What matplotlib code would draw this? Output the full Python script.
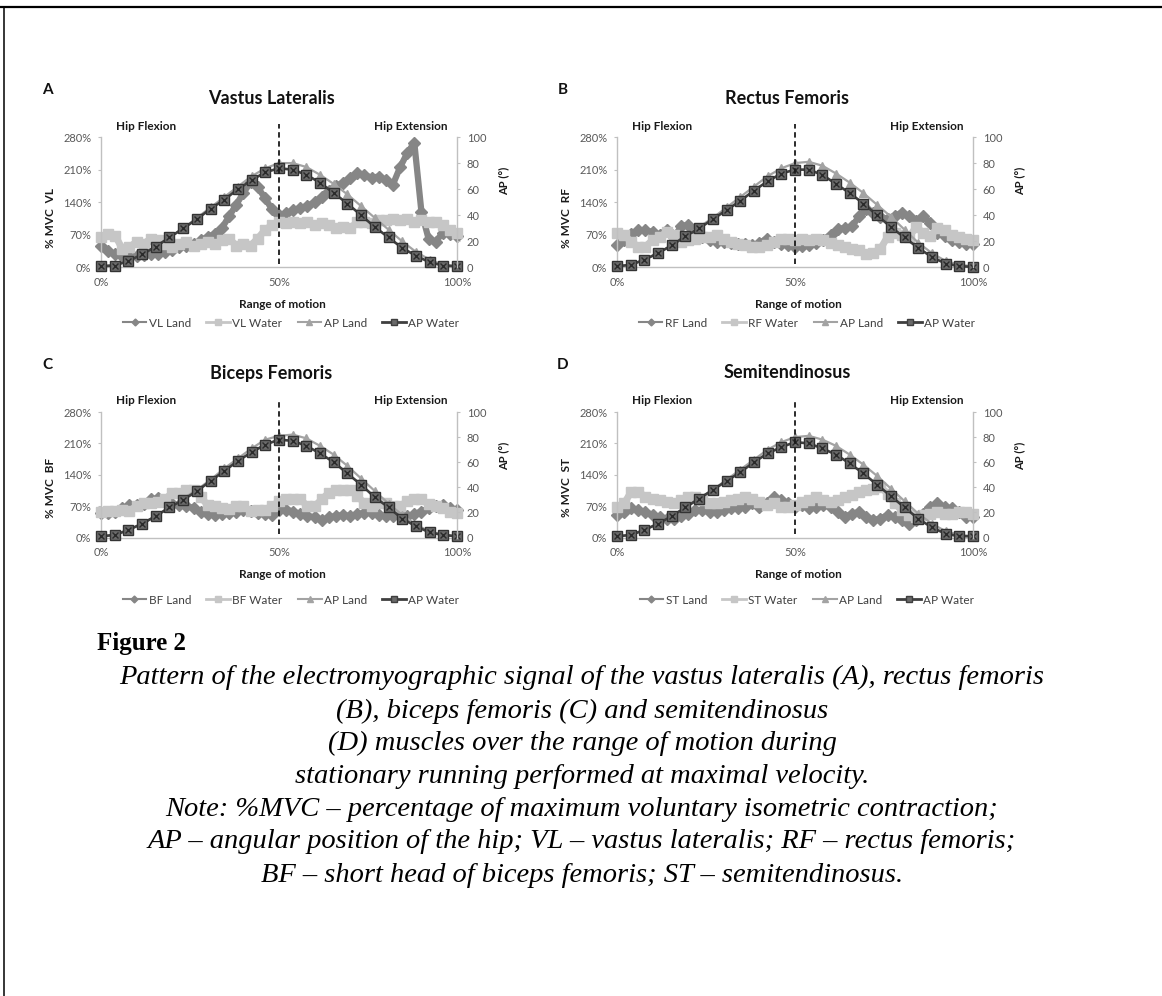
import numpy as np
import matplotlib
matplotlib.use("Agg")
import matplotlib.pyplot as plt
from matplotlib.lines import Line2D

plt.rcParams['font.family'] = ['Lato', 'DejaVu Sans']

W, H = 1162, 996

# x positions, % of the range of motion
EMG_X = list(range(0, 101, 2))
AP_X = list(np.linspace(0, 100, 27))

LETTERS = ['A', 'B', 'C', 'D']
TITLES = ['Vastus Lateralis', 'Rectus Femoris', 'Biceps Femoris', 'Semitendinosus']
MUSCLES = ['VL', 'RF', 'BF', 'ST']

# EMG, % MVC (every 2 % of the range of motion)
VL_LAND = [47, 35, 28, 24, 22, 25, 27, 28, 30, 34, 38, 43, 46, 50, 58, 66, 72,
           85, 110, 135, 160, 183, 172, 150, 125, 112, 116, 123, 128, 132, 140,
           152, 165, 175, 182, 192, 203, 198, 193, 195, 188, 178, 215, 245, 268,
           120, 62, 55, 75, 72, 68]
VL_WATER = [65, 72, 68, 40, 44, 55, 51, 62, 58, 51, 44, 51, 55, 47, 51, 55, 51,
            58, 62, 47, 51, 47, 62, 80, 91, 98, 95, 98, 95, 98, 91, 95, 91, 84,
            87, 84, 98, 98, 95, 102, 102, 105, 102, 105, 98, 102, 98, 98, 91,
            80, 73]
RF_LAND = [48, 59, 72, 80, 80, 76, 70, 80, 65, 88, 92, 78, 65, 60, 55, 55, 53,
           50, 50, 48, 52, 62, 55, 50, 48, 45, 46, 48, 52, 60, 70, 82, 85, 88,
           110, 125, 118, 108, 105, 110, 118, 110, 100, 110, 95, 75, 68, 60, 55,
           50, 50]
RF_WATER = [73, 70, 55, 45, 45, 59, 65, 77, 70, 55, 58, 62, 65, 66, 70, 62, 55,
            50, 48, 45, 45, 48, 55, 62, 62, 60, 62, 60, 62, 60, 52, 48, 45, 40,
            38, 30, 32, 40, 66, 75, 70, 65, 87, 75, 68, 84, 80, 70, 65, 62, 60]
BF_LAND = [55, 55, 58, 65, 72, 72, 75, 85, 88, 80, 75, 72, 70, 66, 58, 52, 50,
           52, 55, 58, 62, 60, 55, 52, 50, 62, 62, 58, 52, 48, 45, 38, 45, 48,
           50, 48, 52, 55, 55, 50, 48, 48, 50, 48, 52, 58, 65, 70, 72, 65, 62]
BF_WATER = [58, 60, 60, 62, 60, 70, 77, 77, 80, 85, 100, 100, 105, 107, 90, 72,
            70, 66, 63, 70, 70, 59, 62, 62, 70, 81, 85, 85, 85, 70, 70, 85, 100,
            107, 107, 107, 92, 77, 70, 77, 77, 70, 70, 81, 85, 85, 74, 70, 65,
            58, 55]
ST_LAND = [50, 57, 65, 61, 57, 50, 46, 42, 42, 48, 53, 61, 61, 57, 57, 61, 65,
           65, 68, 76, 68, 76, 91, 83, 76, 68, 72, 65, 68, 72, 68, 57, 46, 53,
           57, 46, 39, 42, 50, 46, 39, 31, 39, 53, 68, 76, 68, 65, 57, 46, 46]
ST_WATER = [68, 76, 102, 102, 91, 87, 83, 80, 76, 83, 91, 91, 83, 76, 76, 80,
            83, 87, 91, 87, 80, 72, 76, 68, 68, 72, 80, 83, 91, 83, 80, 83, 91,
            94, 102, 105, 109, 113, 98, 76, 61, 50, 46, 50, 53, 57, 53, 53, 57,
            57, 53]

# hip angular position, degrees
AP_LAND_A = [1, 2, 5, 10, 16, 23, 30, 38, 46, 54, 62, 70, 76, 80, 80, 77, 71,
             64, 56, 47, 38, 29, 20, 12, 6, 2, 1]
AP_WATER_A = [1, 1.5, 5, 10, 16, 23, 30, 37, 45, 52, 60, 67, 73, 76, 75, 71, 65,
              57, 49, 40, 31, 23, 15, 9, 4, 1.5, 1]
AP_LAND_B = [1, 2, 6, 11, 17, 24, 31, 38, 46, 54, 62, 70, 76, 80, 81, 78, 72,
             65, 57, 48, 39, 29, 19, 11, 5, 2, 1]
AP_WATER_B = [1, 2, 6, 11, 17, 24, 30, 37, 44, 51, 59, 66, 72, 75, 75, 71, 64,
              57, 49, 40, 31, 23, 15, 8, 3, 1, 0.5]
AP_LAND_C = [1, 2, 6, 11, 17, 24, 31, 38, 46, 55, 63, 71, 78, 81, 82, 79, 73,
             66, 57, 47, 37, 27, 18, 10, 5, 2, 1]
AP_WATER_C = [1, 2, 6, 11, 17, 24, 30, 37, 45, 53, 61, 68, 74, 78, 77, 73, 67,
              60, 51, 42, 32, 24, 15, 9, 4, 2, 1]
AP_LAND_D = [1, 2, 6, 11, 17, 24, 31, 38, 46, 54, 62, 70, 76, 80, 81, 78, 73,
             66, 58, 49, 39, 29, 19, 11, 5, 2, 1]
AP_WATER_D = [1, 2, 6, 11, 17, 24, 31, 38, 45, 52, 60, 67, 72, 76, 75, 71, 66,
              59, 51, 42, 33, 24, 15, 8, 3, 1, 1]

Y_TICKS = [0, 70, 140, 210, 280]
Y_TICK_LABELS = ['0%', '70%', '140%', '210%', '280%']
AP_TICKS = [0, 20, 40, 60, 80, 100]
X_TICKS = [0, 50, 100]
X_TICK_LABELS = ['0%', '50%', '100%']

CAPTION = [
    'Pattern of the electromyographic signal of the vastus lateralis (A), rectus femoris',
    '(B), biceps femoris (C) and semitendinosus',
    '(D) muscles over the range of motion during',
    'stationary running performed at maximal velocity.',
    'Note: %MVC \u2013 percentage of maximum voluntary isometric contraction;',
    'AP \u2013 angular position of the hip; VL \u2013 vastus lateralis; RF \u2013 rectus femoris;',
    'BF \u2013 short head of biceps femoris; ST \u2013 semitendinosus.',
]

COL_LAND = '#868686'
COL_WATER = '#c6c6c6'
COL_AP_LAND = '#a3a3a3'
COL_AP_WATER = '#3f3f3f'
COL_AXIS = '#c0c0c0'
COL_TICK_TXT = '#595959'

# panel boxes in pixels: left, top, right, bottom
BOXES = [(101, 137, 457, 267.5), (617, 137, 973, 267.5),
         (101, 412, 457, 537.5), (617, 412, 973, 537.5)]
LEGEND_Y = [323, 323, 600, 600]


def fx(x):
    return x / W


def fy(y):
    return 1 - y / H


fig = plt.figure(figsize=(W / 100, H / 100), dpi=100)


def draw_panel(box, letter, title, muscle, land, water, ap_land, ap_water, legend_y):
    left, top, right, bottom = box
    ax = fig.add_axes([fx(left), fy(bottom), (right - left) / W, (bottom - top) / H])
    ax2 = ax.twinx()

    ax.plot(EMG_X, land, color=COL_LAND, lw=4.5, marker='D', ms=6, mec=COL_LAND,
            clip_on=False, solid_joinstyle='round')
    ax.plot(EMG_X, water, color=COL_WATER, lw=5, marker='s', ms=7, mec=COL_WATER,
            clip_on=False, solid_joinstyle='round')
    ax2.plot(AP_X, ap_land, color=COL_AP_LAND, lw=1.6, marker='^', ms=6, clip_on=False)
    ax2.plot(AP_X, ap_water, color=COL_AP_WATER, lw=1.9, marker='s', ms=6.5,
             mfc='#6a6a6a', mec='#333333', clip_on=False)
    ax2.plot(AP_X, ap_water, ls='none', marker='x', ms=5, mew=1,
             color='#2a2a2a', clip_on=False)
    ax2.axvline(50, ymin=0.03, ymax=1.1, color='#1a1a1a', lw=1.3,
                ls=(0, (3, 2)), clip_on=False, zorder=5)

    ax.set_xlim(0, 100)
    ax.set_ylim(0, 280)
    ax2.set_ylim(0, 100)
    ax.set_xticks(X_TICKS, X_TICK_LABELS)
    ax.set_yticks(Y_TICKS, Y_TICK_LABELS)
    ax2.set_yticks(AP_TICKS, [str(t) for t in AP_TICKS])

    ax.tick_params(axis='x', length=0, pad=6.5, labelsize=8, labelcolor=COL_TICK_TXT)
    ax.tick_params(axis='y', length=2.5, width=0.8, color=COL_AXIS, pad=4.5,
                   labelsize=8, labelcolor=COL_TICK_TXT)
    ax2.tick_params(axis='y', length=2.5, width=0.8, color=COL_AXIS, pad=4.5,
                    labelsize=8, labelcolor=COL_TICK_TXT)
    for a in (ax, ax2):
        a.spines['top'].set_visible(False)
        for s in ('left', 'right', 'bottom'):
            a.spines[s].set_color(COL_AXIS)
            a.spines[s].set_linewidth(1.0)
    ax.spines['right'].set_visible(False)
    ax2.spines['left'].set_visible(False)
    ax2.spines['bottom'].set_visible(False)

    cx = (left + right) / 2
    fig.text(fx(left - 54), fy(top - 47), letter, ha='center', va='center',
             fontsize=11, fontweight='bold', color='#111111')
    fig.text(fx(left + 170), fy(top - 39), title, ha='center', va='center',
             fontsize=13, fontweight='bold', color='#111111')
    fig.text(fx(left + 45), fy(top - 11), 'Hip Flexion', ha='center', va='center',
             fontsize=8.5, fontweight='bold', color='#1a1a1a')
    fig.text(fx(left + 310), fy(top - 11), 'Hip Extension', ha='center', va='center',
             fontsize=8.5, fontweight='bold', color='#1a1a1a')
    fig.text(fx(left - 50), fy(bottom - 50), f'% MVC  {muscle}', ha='center',
             va='center', rotation=90, fontsize=8.5, fontweight='bold', color='#1a1a1a')
    fig.text(fx(right + 47), fy(top + 44), 'AP (\u00b0)', ha='center', va='center',
             rotation=90, fontsize=8, fontweight='bold', color='#1a1a1a')
    fig.text(fx(cx + 3), fy(bottom + 36.5), 'Range of motion', ha='center',
             va='center', fontsize=8.5, fontweight='bold', color='#1a1a1a')

    handles = [
        Line2D([], [], color=COL_LAND, lw=1.5, marker='D', ms=3.5),
        Line2D([], [], color=COL_WATER, lw=2, marker='s', ms=4.5),
        Line2D([], [], color=COL_AP_LAND, lw=1.5, marker='^', ms=4.5),
        Line2D([], [], color=COL_AP_WATER, lw=2, marker='s', ms=4.5, mfc='#6a6a6a'),
    ]
    labels = [f'{muscle} Land', f'{muscle} Water', 'AP Land', 'AP Water']
    ax2.legend(handles, labels, loc='center', bbox_to_anchor=(fx(left + 190), fy(legend_y)),
               bbox_transform=fig.transFigure, ncol=4, frameon=False, fontsize=8.5,
               handlelength=2.0, handletextpad=0.2, columnspacing=1.3,
               labelcolor='#404040', borderpad=0)


emg_land = [VL_LAND, RF_LAND, BF_LAND, ST_LAND]
emg_water = [VL_WATER, RF_WATER, BF_WATER, ST_WATER]
ap_land = [AP_LAND_A, AP_LAND_B, AP_LAND_C, AP_LAND_D]
ap_water = [AP_WATER_A, AP_WATER_B, AP_WATER_C, AP_WATER_D]

for i in range(4):
    draw_panel(BOXES[i], LETTERS[i], TITLES[i], MUSCLES[i], emg_land[i],
               emg_water[i], ap_land[i], ap_water[i], LEGEND_Y[i])

# caption
serif = ['Liberation Serif', 'DejaVu Serif']
fig.text(fx(97), fy(643), 'Figure 2', ha='left', va='center', fontsize=18,
         fontweight='bold', family=serif)
cap_y = [677, 711, 743, 776, 809, 842, 875]
for line, yy in zip(CAPTION, cap_y):
    fig.text(fx(582), fy(yy), line, ha='center', va='center', fontsize=20.5,
             style='italic', family=serif)

# page border (top and left)
fig.add_artist(Line2D([0, 1], [fy(7.5), fy(7.5)], transform=fig.transFigure,
                      color='black', lw=1.6))
fig.add_artist(Line2D([fx(4), fx(4)], [0, fy(7.5)], transform=fig.transFigure,
                      color='black', lw=1.1))

fig.savefig('out.png', dpi=100, facecolor='white')
